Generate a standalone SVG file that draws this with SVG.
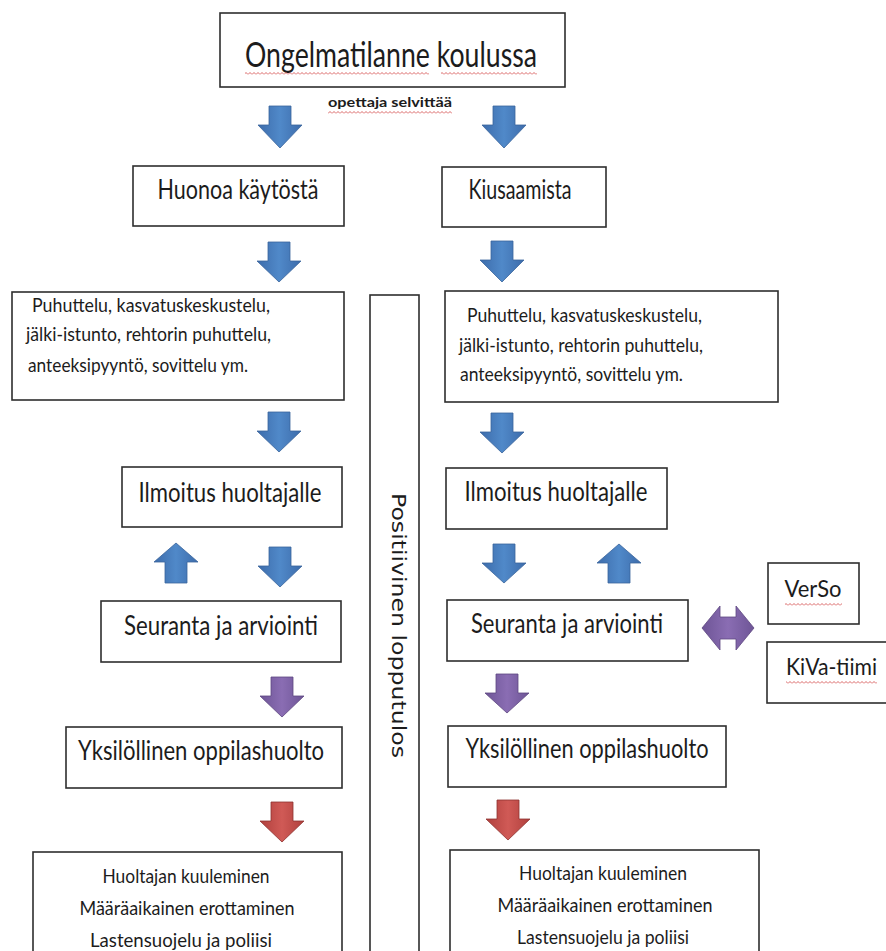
<svg xmlns="http://www.w3.org/2000/svg" width="886" height="951" viewBox="0 0 886 951">
<style>
.box{fill:#fff;stroke:#2e2e2e;stroke-width:1.6}
.t{font-family:Lato,"Open Sans","Liberation Sans",sans-serif;fill:#1c1c1c}
.lbl{font-size:26px;text-anchor:middle}
.sm{font-size:20px}
.bt{font-size:19px;text-anchor:middle}
.blue{fill:url(#gBlue);stroke:#3a659c;stroke-width:0.8}
.purple{fill:url(#gPurple);stroke:#5e4880;stroke-width:0.8}
.red{fill:url(#gRed);stroke:#8e3431;stroke-width:0.8}
.wavy{fill:url(#wv)}
</style>
<defs>
<linearGradient id="gBlue" x1="0" y1="0" x2="1" y2="0">
<stop offset="0" stop-color="#3d6cab"/><stop offset="0.5" stop-color="#5089c9"/><stop offset="1" stop-color="#3d6cab"/>
</linearGradient>
<linearGradient id="gPurple" x1="0" y1="0" x2="1" y2="0">
<stop offset="0" stop-color="#6e5596"/><stop offset="0.5" stop-color="#8a6db3"/><stop offset="1" stop-color="#6e5596"/>
</linearGradient>
<linearGradient id="gRed" x1="0" y1="0" x2="1" y2="0">
<stop offset="0" stop-color="#b0403d"/><stop offset="0.5" stop-color="#d05a56"/><stop offset="1" stop-color="#b0403d"/>
</linearGradient>
<pattern id="wv" width="4" height="3" patternUnits="userSpaceOnUse">
<path d="M0,2.5 L2,0.5 L4,2.5" fill="none" stroke="#d04040" stroke-width="0.8"/>
</pattern>
</defs>

<g id="connectors">
<path class="blue" d="M269,106H291V125H302L280,148L258,125H269Z"/>
<path class="blue" d="M493,106H515V125H526L504,148L482,125H493Z"/>
<path class="blue" d="M268,242H290V261H301L279,282L257,261H268Z"/>
<path class="blue" d="M491,241H513V260H524L502,282L480,260H491Z"/>
<path class="blue" d="M268,412H290V431H301L279,452L257,431H268Z"/>
<path class="blue" d="M491,413H513V432H524L502,453L480,432H491Z"/>
<path class="blue" d="M165,583H187V562H198L176,543L154,562H165Z"/>
<path class="blue" d="M269,547H291V566H302L280,587L258,566H269Z"/>
<path class="blue" d="M493,544H515V563H526L504,583L482,563H493Z"/>
<path class="blue" d="M608,583H630V563H641L619,544L597,563H608Z"/>
<path class="purple" d="M271,677H293V696H304L282,717L260,696H271Z"/>
<path class="purple" d="M496,674H518V693H529L507,713L485,693H496Z"/>
<path class="red" d="M271,802H293V821H304L282,842L260,821H271Z"/>
<path class="red" d="M497,800H519V819H530L508,840L486,819H497Z"/>
<path class="purple" d="M702,628L720,606V617H736V606L754,628L736,650V639H720V650Z"/>
</g>

<g id="n-top">
<rect class="box" x="220" y="13" width="345" height="74"/>
<text class="t" x="391" y="67" font-size="34" text-anchor="middle" textLength="292" lengthAdjust="spacingAndGlyphs">Ongelmatilanne  koulussa</text>
<rect class="wavy" x="245" y="72" width="184" height="3"/>
<rect class="wavy" x="441" y="72" width="96" height="3"/>
</g>

<g id="n-opettaja">
<text class="t" x="390" y="107" font-size="13" font-weight="bold" text-anchor="middle" textLength="124" lengthAdjust="spacingAndGlyphs">opettaja selvittää</text>
<rect class="wavy" x="328" y="111" width="124" height="3"/>
</g>

<g id="n-huonoa">
<rect class="box" x="133" y="166" width="211" height="60"/>
<text class="t lbl" x="238" y="199" textLength="161" lengthAdjust="spacingAndGlyphs">Huonoa käytöstä</text>
</g>

<g id="n-kiusaamista">
<rect class="box" x="442" y="167" width="164" height="60"/>
<text class="t lbl" x="520" y="199" textLength="103" lengthAdjust="spacingAndGlyphs">Kiusaamista</text>
</g>

<g id="n-toimet-l">
<rect class="box" x="12" y="292" width="332" height="108"/>
<text class="t sm" x="32" y="312" textLength="238" lengthAdjust="spacingAndGlyphs">Puhuttelu, kasvatuskeskustelu,</text>
<text class="t sm" x="26" y="341" textLength="245" lengthAdjust="spacingAndGlyphs">jälki-istunto, rehtorin puhuttelu,</text>
<text class="t sm" x="28" y="372" textLength="220" lengthAdjust="spacingAndGlyphs">anteeksipyyntö, sovittelu ym.</text>
</g>

<g id="n-toimet-r">
<rect class="box" x="445" y="291" width="333" height="111"/>
<text class="t sm" x="467" y="322" textLength="235" lengthAdjust="spacingAndGlyphs">Puhuttelu, kasvatuskeskustelu,</text>
<text class="t sm" x="459" y="352" textLength="244" lengthAdjust="spacingAndGlyphs">jälki-istunto, rehtorin puhuttelu,</text>
<text class="t sm" x="460" y="381" textLength="223" lengthAdjust="spacingAndGlyphs">anteeksipyyntö, sovittelu ym.</text>
</g>

<g id="n-positiivinen">
<rect class="box" x="370" y="295" width="49" height="670"/>
<text transform="translate(392,493) rotate(90)" x="0" y="0" font-family="'DejaVu Sans','Liberation Sans',sans-serif" font-size="20" fill="#1c1c1c" textLength="265" lengthAdjust="spacingAndGlyphs">Positiivinen lopputulos</text>
</g>

<g id="n-ilmoitus-l">
<rect class="box" x="122" y="467" width="220" height="60"/>
<text class="t lbl" x="230" y="502" textLength="183" lengthAdjust="spacingAndGlyphs">Ilmoitus huoltajalle</text>
</g>

<g id="n-ilmoitus-r">
<rect class="box" x="446" y="468" width="221" height="61"/>
<text class="t lbl" x="556" y="501" textLength="183" lengthAdjust="spacingAndGlyphs">Ilmoitus huoltajalle</text>
</g>

<g id="n-seuranta-l">
<rect class="box" x="101" y="601" width="240" height="61"/>
<text class="t lbl" x="221" y="635" textLength="194" lengthAdjust="spacingAndGlyphs">Seuranta ja arviointi</text>
</g>

<g id="n-seuranta-r">
<rect class="box" x="447" y="600" width="241" height="61"/>
<text class="t lbl" x="567" y="633" textLength="192" lengthAdjust="spacingAndGlyphs">Seuranta ja arviointi</text>
</g>

<g id="n-verso">
<rect class="box" x="768" y="563" width="91" height="61"/>
<text class="t" x="813" y="597" font-size="23" text-anchor="middle" textLength="57" lengthAdjust="spacingAndGlyphs">VerSo</text>
<rect class="wavy" x="785" y="603" width="57" height="3"/>
</g>

<g id="n-kiva">
<rect class="box" x="767" y="642" width="125" height="61"/>
<text class="t" x="786" y="675" font-size="23" textLength="91" lengthAdjust="spacingAndGlyphs">KiVa-tiimi</text>
<rect class="wavy" x="786" y="681" width="91" height="3"/>
</g>

<g id="n-yksilo-l">
<rect class="box" x="66" y="727" width="276" height="61"/>
<text class="t lbl" x="201" y="760" textLength="246" lengthAdjust="spacingAndGlyphs">Yksilöllinen oppilashuolto</text>
</g>

<g id="n-yksilo-r">
<rect class="box" x="448" y="726" width="278" height="61"/>
<text class="t lbl" x="587" y="758" textLength="243" lengthAdjust="spacingAndGlyphs">Yksilöllinen oppilashuolto</text>
</g>

<g id="n-seuraamus-l">
<rect class="box" x="33" y="852" width="309" height="120"/>
<text class="t bt" x="186" y="883" textLength="167" lengthAdjust="spacingAndGlyphs">Huoltajan kuuleminen</text>
<text class="t bt" x="187" y="915" textLength="215" lengthAdjust="spacingAndGlyphs">Määräaikainen erottaminen</text>
<text class="t bt" x="181" y="947" textLength="182" lengthAdjust="spacingAndGlyphs">Lastensuojelu ja poliisi</text>
</g>

<g id="n-seuraamus-r">
<rect class="box" x="450" y="850" width="309" height="120"/>
<text class="t bt" x="603" y="880" textLength="168" lengthAdjust="spacingAndGlyphs">Huoltajan kuuleminen</text>
<text class="t bt" x="605" y="912" textLength="215" lengthAdjust="spacingAndGlyphs">Määräaikainen erottaminen</text>
<text class="t bt" x="603" y="944" textLength="172" lengthAdjust="spacingAndGlyphs">Lastensuojelu ja poliisi</text>
</g>
</svg>
